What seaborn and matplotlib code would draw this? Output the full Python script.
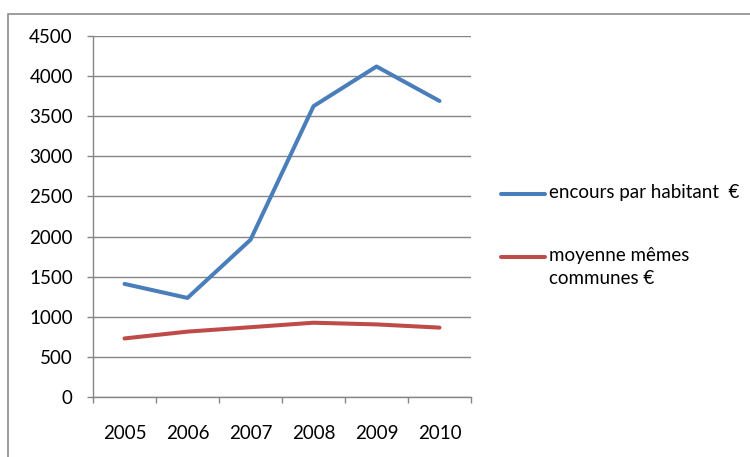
import matplotlib
matplotlib.use("Agg")
import matplotlib.pyplot as plt
from matplotlib.patches import Rectangle
from matplotlib.lines import Line2D
from matplotlib.ticker import FixedLocator
import seaborn as sns
import pandas as pd

years = ["2005", "2006", "2007", "2008", "2009", "2010"]
encours = [1410, 1235, 1960, 3625, 4120, 3690]
moyenne = [730, 815, 870, 926, 905, 865]
series_names = ["encours par habitant  €", "moyenne mêmes\ncommunes €"]
series_colors = ["#4A7EBB", "#BE4B48"]
y_ticks = [0, 500, 1000, 1500, 2000, 2500, 3000, 3500, 4000, 4500]

sns.set_theme(style="white")
plt.rcParams['font.family'] = ['Lato', 'DejaVu Sans']
FS = 13.5

df = pd.DataFrame({
    "pos": list(range(len(years))) * 2,
    "value": encours + moyenne,
    "serie": [series_names[0]] * len(years) + [series_names[1]] * len(years),
})

fig = plt.figure(figsize=(7.5, 4.57), dpi=100)
ax = fig.add_axes([93/750, 1 - 397/457, (471-93)/750, (397-36)/457])

sns.lineplot(data=df, x="pos", y="value", hue="serie",
             palette=series_colors, linewidth=2.9, ax=ax,
             legend=False)

ax.set_xlim(-0.5, len(years) - 0.5)
ax.set_ylim(0, 4500)
ax.set_yticks(y_ticks)
ax.set_yticklabels([str(v) for v in y_ticks])
ax.set_xticks(range(len(years)))
ax.set_xticklabels(years)
ax.xaxis.set_minor_locator(FixedLocator([i - 0.5 for i in range(len(years) + 1)]))
ax.set_xlabel("")
ax.set_ylabel("")

for s in ["top", "right"]:
    ax.spines[s].set_visible(False)
for s in ["left", "bottom"]:
    ax.spines[s].set_color("#868686")
    ax.spines[s].set_linewidth(1.0)

ax.yaxis.grid(True, color="#868686", linewidth=1.0)
ax.set_axisbelow(True)
ax.tick_params(axis="y", which="major", length=4.5, width=1, color="#868686",
               direction="out", left=True, pad=10, labelsize=FS, labelcolor="black")
ax.tick_params(axis="x", which="major", length=0, pad=20, labelsize=FS, labelcolor="black")
ax.tick_params(axis="x", which="minor", length=4.5, width=1, color="#868686",
               direction="out", bottom=True)

# Legend (Excel style: handle aligned with first line of label)
W, H = 750, 457
leg_items = [(series_names[0], series_colors[0], 194),
             (series_names[1], series_colors[1], 257)]
for label, color, yc in leg_items:
    fig.add_artist(Line2D([501/W, 545/W], [1 - yc/H, 1 - yc/H],
                          transform=fig.transFigure, color=color,
                          linewidth=2.9, solid_capstyle="round"))
    fig.text(549/W, 1 - (yc - 10)/H, label, fontsize=FS, color="black",
             ha="left", va="top", linespacing=1.45)

fig.patches.append(Rectangle((8/750, -0.05), 1.1, 1 - 14/457 + 0.05,
                             transform=fig.transFigure, fill=False,
                             edgecolor="#8C8C8C", linewidth=1.2, clip_on=False))

fig.savefig("out.png", dpi=100)
